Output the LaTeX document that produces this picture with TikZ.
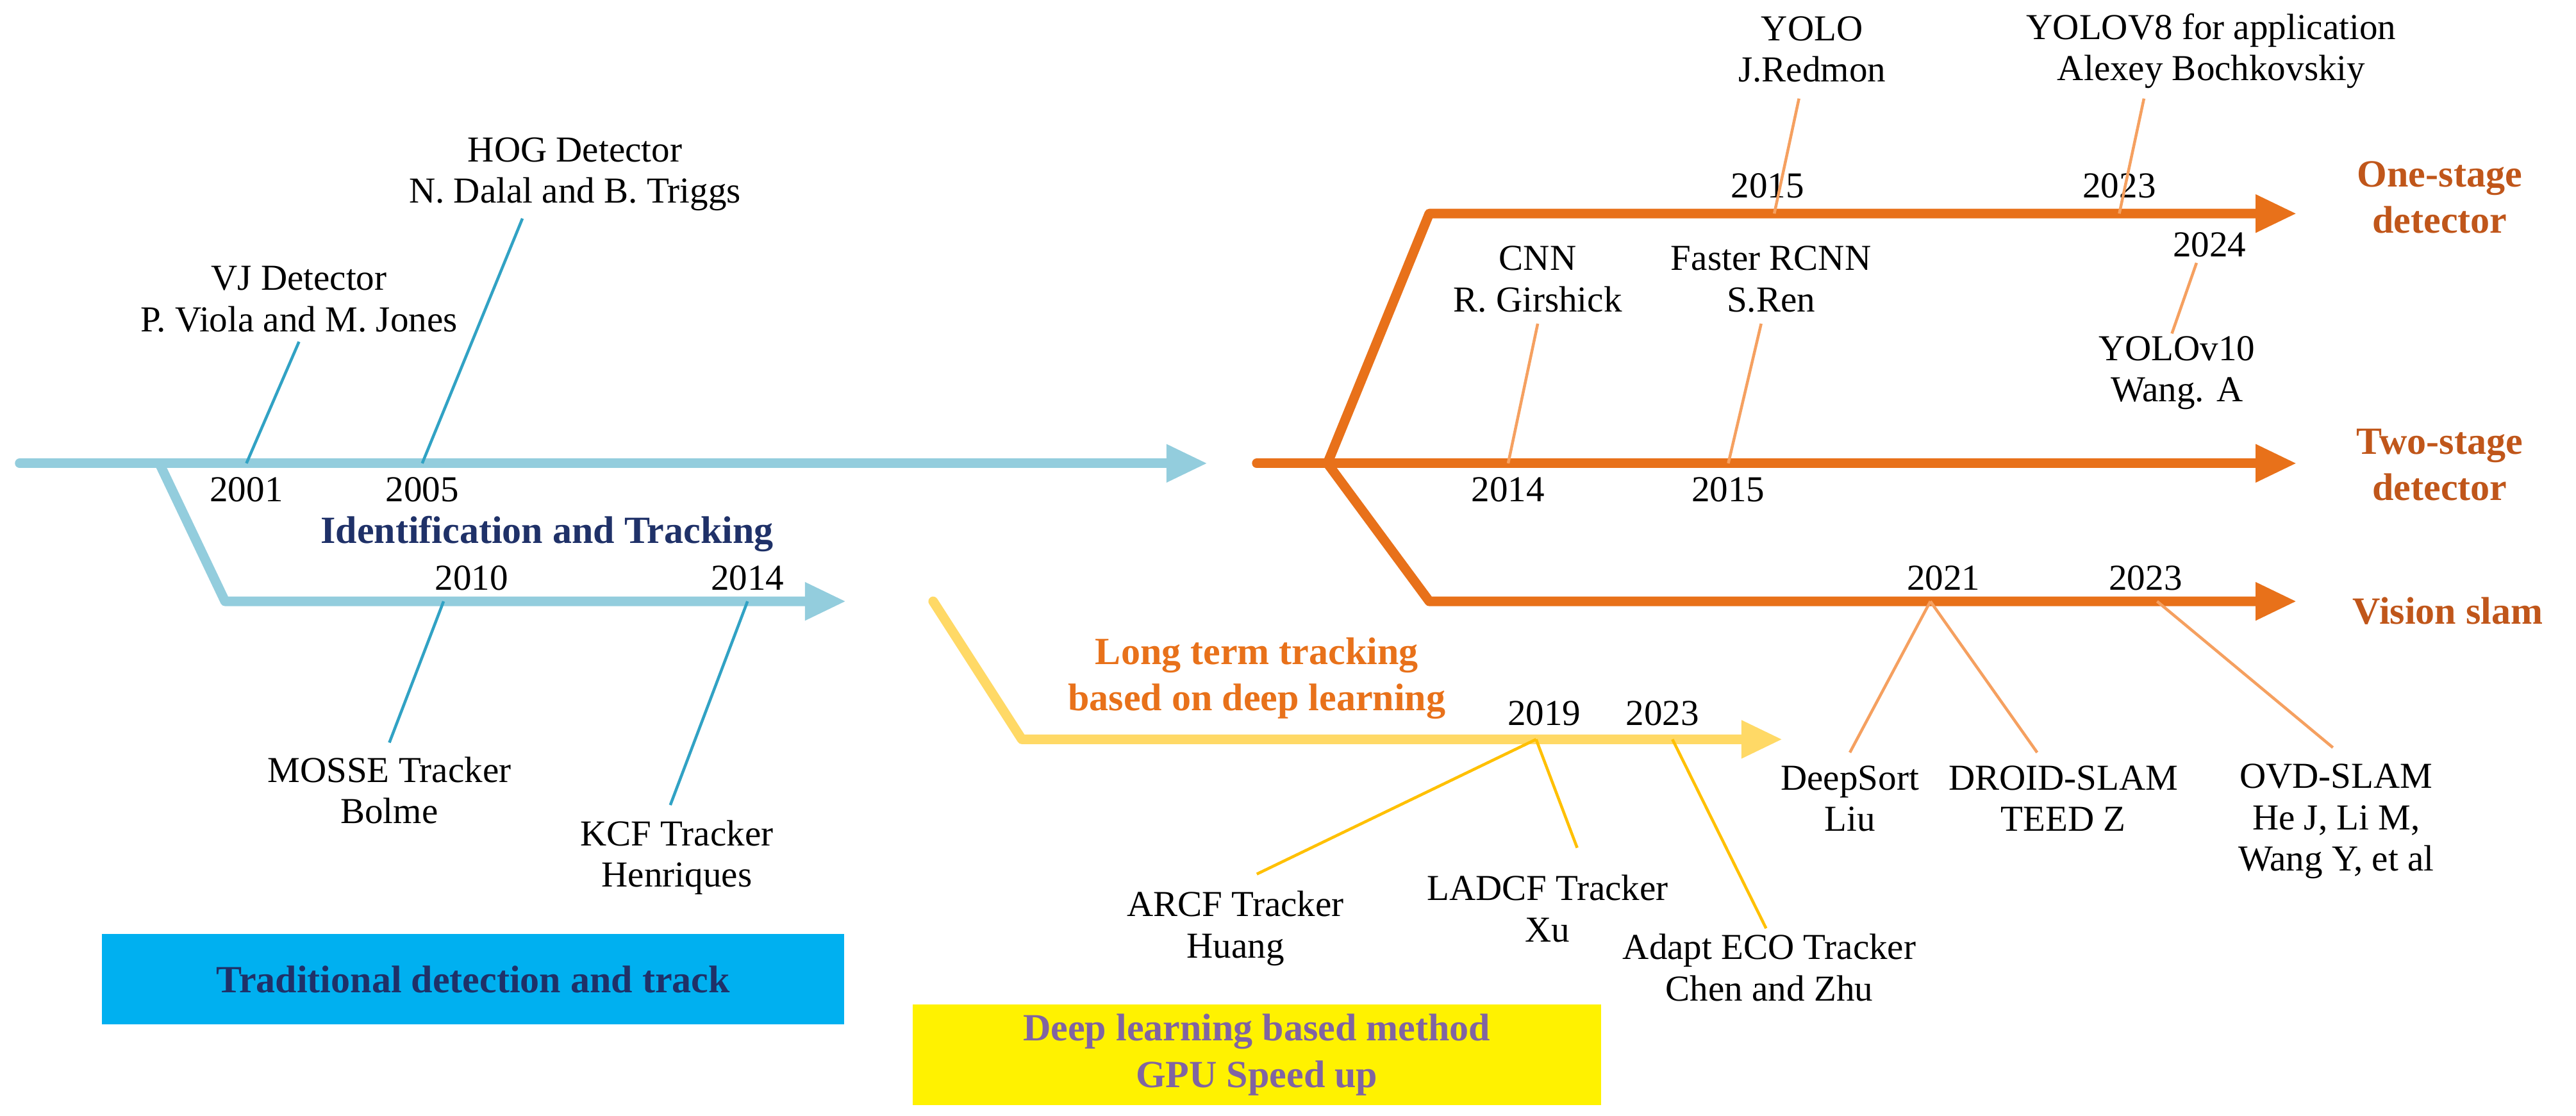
\documentclass[tikz,border=0pt]{standalone}
\usepackage{fontspec}
\setmainfont{Liberation Serif}
\usetikzlibrary{arrows.meta}
\definecolor{lcyan}{HTML}{93CDDD}
\definecolor{dcyan}{HTML}{31A2C4}
\definecolor{navy}{HTML}{1F3168}
\definecolor{org}{HTML}{E8711A}
\definecolor{lorg}{HTML}{F5A060}
\definecolor{borg}{HTML}{C0561A}
\definecolor{ylw}{HTML}{FFD966}
\definecolor{gold}{HTML}{FFC000}
\definecolor{purp}{HTML}{8064A2}
\definecolor{sky}{HTML}{00B0F0}
\begin{document}
\begin{tikzpicture}[x=0.03cm,y=-0.03cm,
 t/.style={font=\fontsize{19}{21.5}\selectfont,inner sep=0pt,align=center},
 b/.style={font=\fontsize{20}{24}\selectfont\bfseries,inner sep=0pt,align=center},
 main/.style={line width=5pt,-{Triangle[length=0.75cm,width=0.65cm]}},
 tick/.style={line width=1.5pt}]
\useasboundingbox (0,0) rectangle (1568,679);
% cyan
\coordinate (c0) at (12,282); \coordinate (c1) at (735,282);
\coordinate (cb) at (97,282); \coordinate (cb1) at (137,366); \coordinate (cb2) at (515,366);
\draw[main,lcyan,line cap=round] (c0) -- (c1);
\draw[main,lcyan,line join=round] (cb) -- (cb1) -- (cb2);
\node[t] (y2001) at (150,298) {2001};
\node[t] (y2005) at (257,298) {2005};
\node[t] (vj) at (182,182) {VJ Detector\\P. Viola and M. Jones};
\node[t] (hog) at (350,106) {HOG Detector\\N. Dalal and B. Triggs};
\coordinate (p2001) at (150,282); \coordinate (p2005) at (257,282);
\draw[tick,dcyan] (p2001) -- (182,208);
\draw[tick,dcyan] (p2005) -- (318,133);
\node[b,text=navy] (it) at (333,325) {Identification and Tracking};
\node[t] (y2010) at (287,352) {2010};
\node[t] (y2014) at (455,352) {2014};
\node[t] (mosse) at (237,481) {MOSSE Tracker\\Bolme};
\node[t] (kcf) at (412,522) {KCF Tracker\\Henriques};
\draw[tick,dcyan] (270,366) -- (237,452);
\draw[tick,dcyan] (455,366) -- (408,490);
\node[fill=sky,minimum width=452*0.03cm,minimum height=55*0.03cm,b,text=navy] (box1) at (288,596) {Traditional detection and track};
\node[fill=yellow,minimum width=419*0.03cm,minimum height=61*0.03cm,b,text=purp] (box2) at (765,642) {Deep learning based method\\GPU Speed up};
% yellow
\draw[main,ylw,line join=round,line cap=round] (568,366) -- (622,450) -- (1085,450);
\node[b,text=org] (lt) at (765,413) {Long term tracking\\based on deep learning};
\node[t] (y2019) at (940,434) {2019};
\node[t] (y2023b) at (1012,434) {2023};
\node[t] (arcf) at (752,565) {ARCF Tracker\\Huang};
\node[t] (ladcf) at (942,553) {LADCF Tracker\\Xu};
\node[t] (eco) at (1077,589) {Adapt ECO Tracker\\Chen and Zhu};
\draw[tick,gold] (935,450) -- (765,532);
\draw[tick,gold] (935,450) -- (960,516);
\draw[tick,gold] (1018,450) -- (1075,565);
% orange
\draw[main,org,line cap=round] (765,282) -- (1398,282);
\draw[main,org,line join=round] (808,282) -- (870,130) -- (1398,130);
\draw[main,org,line join=round] (808,282) -- (870,366) -- (1398,366);
\node[b,text=borg] (one) at (1485,120) {One-stage\\detector};
\node[b,text=borg] (two) at (1485,283) {Two-stage\\detector};
\node[b,text=borg] (vs) at (1490,372) {Vision slam};
\node[t] (t2015) at (1076,113) {2015};
\node[t] (yolo) at (1103,30) {YOLO\\J.Redmon};
\draw[tick,lorg] (1080,130) -- (1095,60);
\node[t] (t2023) at (1290,113) {2023};
\node[t] (yolo8) at (1346,31) {YOLOV8 for application\\Alexey Bochkovskiy};
\draw[tick,lorg] (1290,130) -- (1305,60);
\node[t] (t2024) at (1345,149) {2024};
\node[t] (yolo10) at (1325,227) {YOLOv10\\Wang. A};
\draw[tick,lorg] (1337,160) -- (1322,203);
\node[t] (s2014) at (918,298) {2014};
\node[t] (cnn) at (936,170) {CNN\\R. Girshick};
\draw[tick,lorg] (918,282) -- (936,197);
\node[t] (s2015) at (1052,298) {2015};
\node[t] (frcnn) at (1078,170) {Faster RCNN\\S.Ren};
\draw[tick,lorg] (1052,282) -- (1072,197);
\node[t] (v2021) at (1183,352) {2021};
\node[t] (v2023) at (1306,352) {2023};
\node[t] (ds) at (1126,486) {DeepSort\\Liu};
\node[t] (droid) at (1256,486) {DROID-SLAM\\TEED Z};
\node[t] (ovd) at (1422,500) {OVD-SLAM\\He J, Li M,\\Wang Y, et al};
\draw[tick,lorg] (1175,366) -- (1126,458);
\draw[tick,lorg] (1175,366) -- (1240,458);
\draw[tick,lorg] (1313,366) -- (1420,455);
\end{tikzpicture}
\end{document}
